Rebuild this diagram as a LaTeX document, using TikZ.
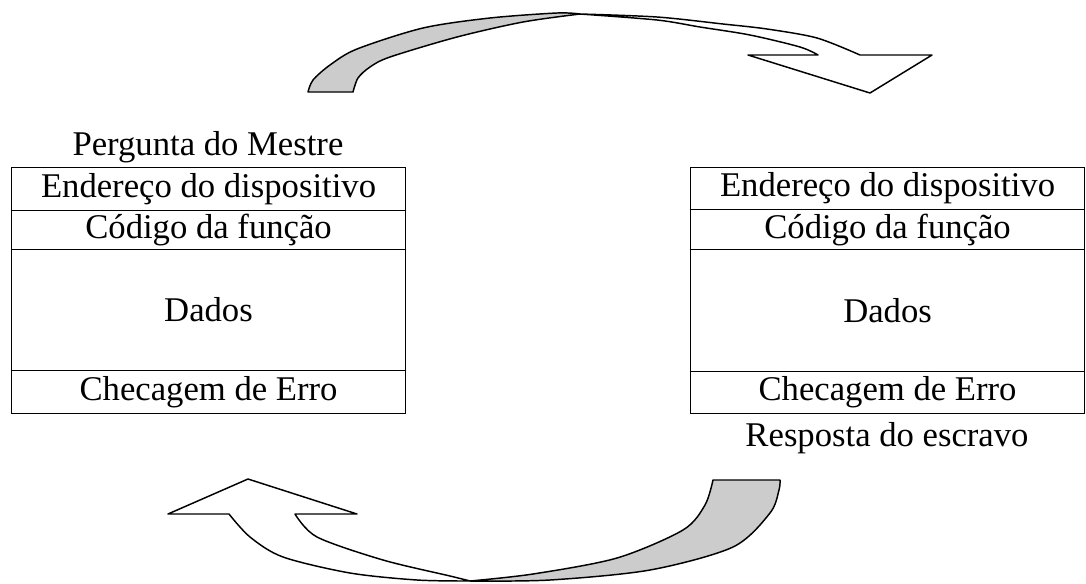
\documentclass[tikz,border=0pt]{standalone}
\usepackage{fontspec}
\setmainfont{Liberation Serif}
\begin{document}
\begin{tikzpicture}[x=0.75pt,y=-0.75pt,
  cell/.style={draw=black,line width=0.8pt,rectangle,minimum width=394*0.75pt,inner sep=0pt,anchor=north west,font=\fontsize{26}{30}\selectfont},
  lbl/.style={inner sep=0pt,font=\fontsize{26}{30}\selectfont},
  arrowline/.style={draw=black,line width=1.1pt,line join=round},
  shade/.style={fill=black!20}]
\useasboundingbox (0,0) rectangle (1086,583);
% left box
\node[lbl] (q) at (208,147) {Pergunta do Mestre};
\node[cell,minimum height=43*0.75pt] (qa) at (11,167) {Endereço do dispositivo};
\node[cell,minimum height=39*0.75pt] (qb) at (11,210) {Código da função};
\node[cell,minimum height=121*0.75pt] (qc) at (11,249) {Dados};
\node[cell,minimum height=43*0.75pt] (qd) at (11,370) {Checagem de Erro};
% right box
\node[cell,minimum height=42*0.75pt] (ra) at (690,167) {Endereço do dispositivo};
\node[cell,minimum height=40*0.75pt] (rb) at (690,209) {Código da função};
\node[cell,minimum height=122*0.75pt] (rc) at (690,249) {Dados};
\node[cell,minimum height=42*0.75pt] (rd) at (690,371) {Checagem de Erro};
\node[lbl] (r) at (887,438) {Resposta do escravo};
% top curved arrow
\path[arrowline,shade] (308,92) -- (353,92)
  -- plot[smooth] coordinates {(353,92) (358,78) (370,67) (390,57) (457,37) (523,22) (580,14)}
  -- plot[smooth] coordinates {(580,14) (557,13) (490,18) (423,28) (357,49) (330,65) (313,80) (308,92)}
  -- cycle;
\path[arrowline,fill=white]
  plot[smooth] coordinates {(580,14) (657,17) (723,24) (767,29) (817,38) (860,55)}
  -- (932,55) -- (870,93) -- (748,55) -- (818,55)
  -- plot[smooth] coordinates {(818,55) (800,47) (750,35) (700,27) (657,20) (580,14)}
  -- cycle;
% bottom curved arrow
\path[arrowline,shade] (713,480) -- (780,480)
  -- plot[smooth] coordinates {(780,480) (779,490) (770,513) (733,547) (650,570) (550,580) (470,581)}
  -- plot[smooth] coordinates {(470,581) (533,574) (617,558) (683,530) (705,505) (713,480)}
  -- cycle;
\path[arrowline,fill=white]
  plot[smooth] coordinates {(470,581) (417,580) (350,573) (283,557) (250,537) (229,514)}
  -- (168,514) -- (248,479) -- (357,514) -- (295,514)
  -- plot[smooth] coordinates {(295,514) (317,537) (383,560) (450,576) (470,581)}
  -- cycle;
\end{tikzpicture}
\end{document}
